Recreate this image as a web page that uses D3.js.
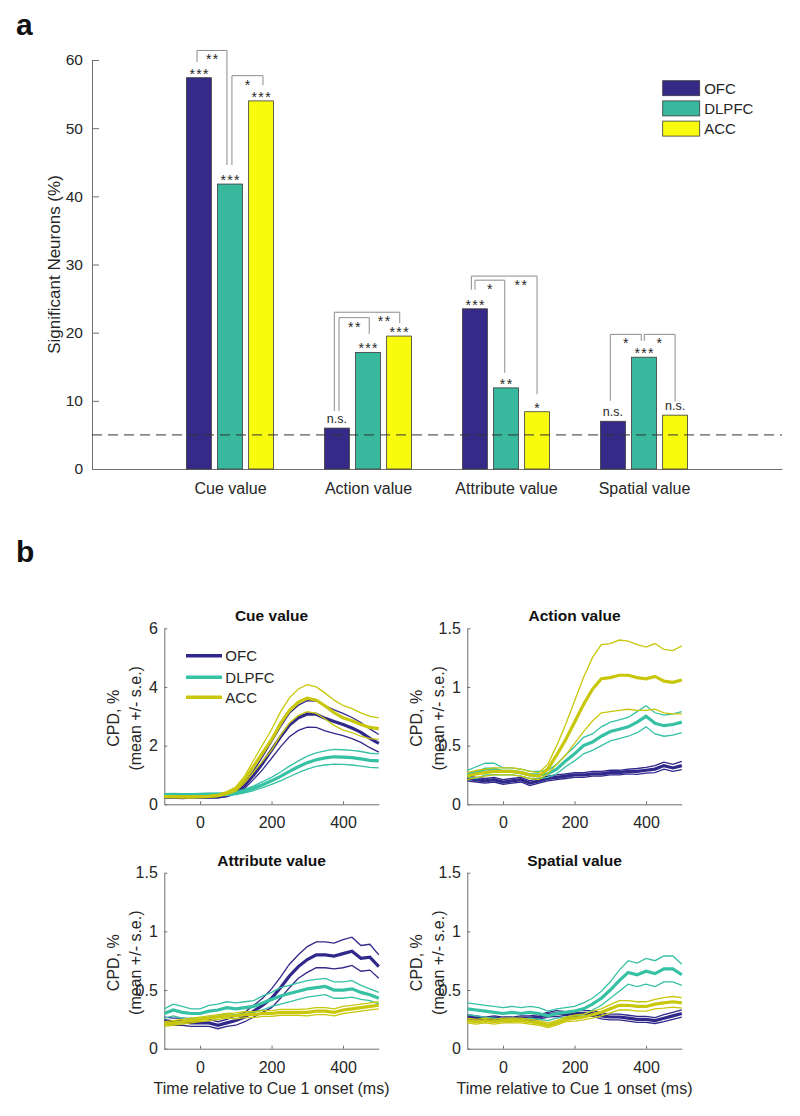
<!DOCTYPE html>
<html>
<head>
<meta charset="utf-8">
<script src="https://cdn.jsdelivr.net/npm/d3@7"></script>
<style>
  body { margin: 0; background: #fff; }
  svg text { font-family: "Liberation Sans", Arial, Helvetica, sans-serif; fill: #262626; }
</style>
</head>
<body>
<svg id="fig" width="800" height="1116"></svg>
<script>
(function () {
    'use strict';

    // ---- panel a data ----
    const categories = ['Cue value', 'Action value', 'Attribute value', 'Spatial value'];
    const regions = ['OFC', 'DLPFC', 'ACC'];
    const ofcPct = [57.4, 6.0, 23.5, 7.0];
    const dlpfcPct = [41.8, 17.1, 11.9, 16.4];
    const accPct = [54.0, 19.5, 8.4, 7.9];
    const barStars = [
        ['***', '***', '***'],
        ['n.s.', '***', '***'],
        ['***', '**', '*'],
        ['n.s.', '***', 'n.s.']
    ];
    const chanceLevel = 5;
    const pctTicks = [0, 10, 20, 30, 40, 50, 60];
    // pairwise comparisons: leg x (category axis units), top and leg ends (%), label
    const brackets = [
        { x: [0.761, 0.978], top: 61.4, ends: [59.7, 44.6], label: '**', lx: 0.870 },
        { x: [1.014, 1.239], top: 57.7, ends: [44.6, 56.3], label: '*', lx: 1.127 },
        { x: [1.756, 2.230], top: 23.0, ends: [8.5, 21.4], label: '**', lx: 2.116 },
        { x: [1.790, 2.009], top: 22.2, ends: [8.5, 19.8], label: '**', lx: 1.900 },
        { x: [2.749, 3.225], top: 28.3, ends: [26.3, 10.95], label: '**', lx: 3.107 },
        { x: [2.775, 2.991], top: 27.7, ends: [26.3, 14.1], label: '*', lx: 2.883 },
        { x: [3.756, 3.980], top: 19.75, ends: [10.0, 18.8], label: '*', lx: 3.868 },
        { x: [4.002, 4.225], top: 19.75, ends: [18.8, 9.9], label: '*', lx: 4.110 }
    ];

    // ---- panel b data (CPD %, every 25 ms) ----
    const times = [-100, -75, -50, -25, 0, 25, 50, 75, 100, 125, 150, 175, 200, 225, 250, 275, 300, 325, 350, 375, 400, 425, 450, 475, 500];

    const cueOfcMean = [0.24, 0.24, 0.23, 0.24, 0.24, 0.24, 0.25, 0.30, 0.42, 0.65, 1.00, 1.40, 1.85, 2.30, 2.70, 2.95, 3.08, 3.07, 2.93, 2.82, 2.72, 2.60, 2.45, 2.25, 2.08];
    const cueOfcSe = [0.02, 0.02, 0.02, 0.02, 0.02, 0.02, 0.03, 0.04, 0.06, 0.10, 0.15, 0.22, 0.28, 0.34, 0.40, 0.43, 0.45, 0.45, 0.43, 0.40, 0.38, 0.36, 0.34, 0.32, 0.30];
    const cueDlpfcMean = [0.32, 0.33, 0.32, 0.32, 0.33, 0.34, 0.34, 0.35, 0.38, 0.45, 0.55, 0.67, 0.80, 0.95, 1.12, 1.28, 1.42, 1.52, 1.58, 1.62, 1.61, 1.59, 1.55, 1.50, 1.48];
    const cueDlpfcSe = [0.04, 0.04, 0.04, 0.04, 0.04, 0.04, 0.04, 0.05, 0.05, 0.06, 0.08, 0.10, 0.12, 0.15, 0.18, 0.20, 0.22, 0.23, 0.24, 0.25, 0.25, 0.25, 0.25, 0.24, 0.24];
    const cueAccMean = [0.26, 0.26, 0.25, 0.25, 0.26, 0.27, 0.30, 0.38, 0.52, 0.85, 1.30, 1.75, 2.20, 2.75, 3.20, 3.48, 3.62, 3.55, 3.35, 3.12, 2.95, 2.85, 2.72, 2.62, 2.58];
    const cueAccSe = [0.03, 0.03, 0.03, 0.03, 0.03, 0.03, 0.04, 0.05, 0.07, 0.12, 0.20, 0.28, 0.35, 0.40, 0.43, 0.45, 0.46, 0.45, 0.44, 0.43, 0.42, 0.41, 0.40, 0.38, 0.37];

    const actOfcMean = [0.22, 0.21, 0.20, 0.21, 0.19, 0.20, 0.21, 0.18, 0.20, 0.22, 0.23, 0.24, 0.25, 0.25, 0.26, 0.26, 0.27, 0.27, 0.28, 0.28, 0.29, 0.30, 0.33, 0.31, 0.33];
    const actOfcSe = [0.02, 0.02, 0.02, 0.02, 0.02, 0.02, 0.02, 0.02, 0.02, 0.02, 0.02, 0.02, 0.02, 0.02, 0.02, 0.02, 0.02, 0.02, 0.02, 0.025, 0.025, 0.03, 0.03, 0.03, 0.035];
    const actDlpfcMean = [0.26, 0.27, 0.30, 0.30, 0.28, 0.28, 0.27, 0.25, 0.25, 0.26, 0.30, 0.37, 0.43, 0.50, 0.53, 0.58, 0.62, 0.64, 0.66, 0.70, 0.75, 0.69, 0.67, 0.68, 0.70];
    const actDlpfcSe = [0.03, 0.05, 0.05, 0.05, 0.03, 0.03, 0.03, 0.03, 0.03, 0.03, 0.04, 0.05, 0.06, 0.07, 0.07, 0.08, 0.08, 0.08, 0.08, 0.09, 0.09, 0.09, 0.09, 0.09, 0.09];
    const actAccMean = [0.24, 0.26, 0.27, 0.28, 0.28, 0.28, 0.27, 0.25, 0.24, 0.30, 0.42, 0.55, 0.70, 0.85, 0.98, 1.07, 1.08, 1.10, 1.10, 1.08, 1.07, 1.09, 1.05, 1.04, 1.06];
    const actAccSe = [0.03, 0.03, 0.03, 0.03, 0.03, 0.03, 0.03, 0.03, 0.03, 0.04, 0.08, 0.13, 0.18, 0.23, 0.27, 0.29, 0.29, 0.30, 0.29, 0.28, 0.27, 0.28, 0.27, 0.27, 0.29];

    const attOfcMean = [0.24, 0.23, 0.23, 0.22, 0.22, 0.22, 0.20, 0.22, 0.24, 0.27, 0.32, 0.37, 0.43, 0.52, 0.62, 0.70, 0.76, 0.80, 0.80, 0.79, 0.81, 0.83, 0.77, 0.78, 0.70];
    const attOfcSe = [0.03, 0.03, 0.03, 0.03, 0.03, 0.03, 0.03, 0.03, 0.04, 0.04, 0.05, 0.06, 0.08, 0.09, 0.10, 0.10, 0.11, 0.11, 0.11, 0.11, 0.12, 0.12, 0.11, 0.11, 0.10];
    const attDlpfcMean = [0.30, 0.33, 0.31, 0.30, 0.30, 0.32, 0.33, 0.35, 0.34, 0.35, 0.36, 0.39, 0.42, 0.45, 0.47, 0.49, 0.51, 0.52, 0.53, 0.50, 0.50, 0.51, 0.48, 0.46, 0.43];
    const attDlpfcSe = [0.04, 0.05, 0.05, 0.04, 0.04, 0.05, 0.05, 0.05, 0.05, 0.05, 0.05, 0.06, 0.06, 0.07, 0.07, 0.07, 0.07, 0.07, 0.07, 0.07, 0.07, 0.07, 0.06, 0.05, 0.05];
    const attAccMean = [0.21, 0.22, 0.23, 0.24, 0.25, 0.26, 0.27, 0.28, 0.28, 0.29, 0.29, 0.30, 0.30, 0.31, 0.31, 0.31, 0.31, 0.32, 0.32, 0.31, 0.33, 0.34, 0.35, 0.36, 0.37];
    const attAccSe = [0.02, 0.02, 0.02, 0.02, 0.02, 0.02, 0.02, 0.02, 0.025, 0.025, 0.025, 0.025, 0.025, 0.025, 0.025, 0.025, 0.03, 0.03, 0.03, 0.03, 0.03, 0.03, 0.03, 0.03, 0.03];

    const spaOfcMean = [0.27, 0.26, 0.25, 0.26, 0.25, 0.25, 0.26, 0.26, 0.27, 0.29, 0.30, 0.29, 0.30, 0.30, 0.30, 0.28, 0.27, 0.27, 0.26, 0.25, 0.25, 0.24, 0.26, 0.28, 0.30];
    const spaOfcSe = [0.02, 0.02, 0.02, 0.02, 0.02, 0.02, 0.02, 0.02, 0.02, 0.02, 0.025, 0.025, 0.025, 0.025, 0.025, 0.025, 0.025, 0.025, 0.025, 0.025, 0.025, 0.025, 0.03, 0.03, 0.03];
    const spaDlpfcMean = [0.34, 0.33, 0.32, 0.31, 0.30, 0.31, 0.30, 0.31, 0.30, 0.28, 0.30, 0.31, 0.32, 0.34, 0.38, 0.43, 0.50, 0.58, 0.65, 0.63, 0.66, 0.64, 0.68, 0.68, 0.63];
    const spaDlpfcSe = [0.05, 0.05, 0.05, 0.05, 0.05, 0.05, 0.05, 0.05, 0.05, 0.04, 0.04, 0.04, 0.04, 0.05, 0.05, 0.06, 0.07, 0.09, 0.10, 0.10, 0.11, 0.11, 0.11, 0.11, 0.09];
    const spaAccMean = [0.24, 0.23, 0.24, 0.23, 0.24, 0.24, 0.24, 0.23, 0.22, 0.20, 0.22, 0.25, 0.26, 0.27, 0.29, 0.31, 0.34, 0.37, 0.37, 0.36, 0.36, 0.38, 0.39, 0.40, 0.39];
    const spaAccSe = [0.02, 0.02, 0.02, 0.02, 0.02, 0.02, 0.02, 0.02, 0.02, 0.02, 0.02, 0.02, 0.025, 0.025, 0.03, 0.03, 0.035, 0.04, 0.04, 0.04, 0.04, 0.04, 0.045, 0.045, 0.045];

    const timeTicks = [0, 200, 400];

    const ink = '#262626';
    const axisGrey = '#707070';
    const barColors = ['#352a87', '#38b99e', '#f9fb0e'];
    const lineColors = ['#30288a', '#36c1a5', '#c8c70b'];

    const svg = d3.select('#fig');

    function styleAxis(g, fontSize) {
        g.select('.domain').attr('stroke', axisGrey).attr('stroke-width', 1);
        g.selectAll('.tick line').attr('stroke', axisGrey);
        g.selectAll('.tick text').attr('fill', ink).attr('font-size', fontSize)
            .style('font-family', '"Liberation Sans", Arial, sans-serif');
    }

    function panelLetter(txt, y) {
        svg.append('text').attr('x', 16).attr('y', y)
            .attr('font-size', 30).attr('font-weight', 'bold').style('fill', '#111').text(txt);
    }

    // ===================== panel a =====================
    function drawBars() {
        const x = d3.scaleLinear().domain([0, 5]).range([92, 782]);
        const y = d3.scaleLinear().domain([0, 60]).range([469, 60]);
        const g = svg.append('g');
        const offsets = [-0.225, 0, 0.225];
        const bw = x(0.18) - x(0);
        const values = [ofcPct, dlpfcPct, accPct];

        g.append('g').attr('transform', 'translate(0,469)')
            .call(d3.axisBottom(x).tickValues([1, 2, 3, 4]).tickFormat((d, i) => categories[i])
                .tickSize(0).tickPadding(13.5))
            .call(a => styleAxis(a, 16));

        g.append('g').attr('transform', 'translate(92,0)')
            .call(d3.axisLeft(y).tickValues(pctTicks).tickSizeInner(-7).tickSizeOuter(0).tickPadding(9))
            .call(a => styleAxis(a, 15.5));

        g.append('text')
            .attr('transform', `translate(54,${(y(0) + y(60)) / 2}) rotate(-90)`)
            .attr('text-anchor', 'middle').attr('dominant-baseline', 'central')
            .attr('font-size', 17).text('Significant Neurons (%)');

        regions.forEach((r, ri) => {
            g.append('g').selectAll('rect')
                .data(values[ri])
                .join('rect')
                .attr('x', (d, i) => x(i + 1 + offsets[ri]) - bw / 2)
                .attr('y', d => y(d))
                .attr('width', bw)
                .attr('height', d => y(0) - y(d))
                .attr('fill', barColors[ri])
                .attr('stroke', '#3a3a3a')
                .attr('stroke-width', 0.8);

            g.append('g').selectAll('text')
                .data(values[ri])
                .join('text')
                .attr('x', (d, i) => x(i + 1 + offsets[ri]))
                .attr('y', (d, i) => y(d) - (barStars[i][ri] === 'n.s.' ? 5.5 : -1))
                .attr('text-anchor', 'middle')
                .attr('font-size', (d, i) => barStars[i][ri] === 'n.s.' ? 12.5 : 14)
                .attr('letter-spacing', (d, i) => barStars[i][ri] === 'n.s.' ? 0 : 1.4)
                .attr('dx', (d, i) => barStars[i][ri] === 'n.s.' ? 0 : 0.7)
                .text((d, i) => barStars[i][ri]);
        });

        g.append('line')
            .attr('x1', x(0)).attr('x2', x(5))
            .attr('y1', y(chanceLevel)).attr('y2', y(chanceLevel))
            .attr('stroke', '#333').attr('stroke-width', 1)
            .attr('stroke-dasharray', '10,6');

        g.append('g').selectAll('path')
            .data(brackets)
            .join('path')
            .attr('d', b => `M${x(b.x[0])},${y(b.ends[0])}V${y(b.top)}H${x(b.x[1])}V${y(b.ends[1])}`)
            .attr('fill', 'none').attr('stroke', '#8c8c8c').attr('stroke-width', 1);

        g.append('g').selectAll('text')
            .data(brackets)
            .join('text')
            .attr('x', b => x(b.lx) + 0.7)
            .attr('y', b => y(b.top) + 14)
            .attr('text-anchor', 'middle')
            .attr('font-size', 14)
            .attr('letter-spacing', 1.4)
            .text(b => b.label);

        // legend
        const lg = g.append('g').attr('transform', 'translate(662.7,80.7)');
        regions.forEach((r, ri) => {
            lg.append('rect').attr('x', 0).attr('y', ri * 20.2).attr('width', 37).attr('height', 15)
                .attr('fill', barColors[ri]).attr('stroke', '#3a3a3a').attr('stroke-width', 0.8);
            lg.append('text').attr('x', 41.5).attr('y', ri * 20.2 + 7.5)
                .attr('dominant-baseline', 'central').attr('font-size', 15).text(r);
        });
    }

    // ===================== panel b =====================
    const panels = [
        { title: 'Cue value', yMax: 6, yTicks: [0, 2, 4, 6], col: 0, row: 0, legend: true,
          series: [[cueOfcMean, cueOfcSe], [cueDlpfcMean, cueDlpfcSe], [cueAccMean, cueAccSe]] },
        { title: 'Action value', yMax: 1.5, yTicks: [0, 0.5, 1, 1.5], col: 1, row: 0,
          series: [[actOfcMean, actOfcSe], [actDlpfcMean, actDlpfcSe], [actAccMean, actAccSe]] },
        { title: 'Attribute value', yMax: 1.5, yTicks: [0, 0.5, 1, 1.5], col: 0, row: 1, xLabel: true,
          series: [[attOfcMean, attOfcSe], [attDlpfcMean, attDlpfcSe], [attAccMean, attAccSe]] },
        { title: 'Spatial value', yMax: 1.5, yTicks: [0, 0.5, 1, 1.5], col: 1, row: 1, xLabel: true,
          series: [[spaOfcMean, spaOfcSe], [spaDlpfcMean, spaDlpfcSe], [spaAccMean, spaAccSe]] }
    ];

    function drawPanel(p) {
        const x0 = [164.3, 467.3][p.col];
        const y0 = [628.3, 872.7][p.row];
        const w = 214.5, h = 176;
        const x = d3.scaleLinear().domain([-100, 500]).range([x0, x0 + w]);
        const y = d3.scaleLinear().domain([0, p.yMax]).range([y0 + h, y0]);
        const g = svg.append('g');

        g.append('g').attr('transform', `translate(0,${y0 + h})`)
            .call(d3.axisBottom(x).tickValues(timeTicks).tickSizeInner(-3).tickSizeOuter(0).tickPadding(12.5))
            .call(a => styleAxis(a, 16));
        g.append('g').attr('transform', `translate(${x0},0)`)
            .call(d3.axisLeft(y).tickValues(p.yTicks).tickFormat(d => String(d))
                .tickSizeInner(-3).tickSizeOuter(0).tickPadding(6.5))
            .call(a => styleAxis(a, 16));

        const line = d3.line().x((d, i) => x(times[i])).y(d => y(d));
        p.series.forEach(([m, s], ri) => {
            const upper = m.map((v, i) => v + s[i]);
            const lower = m.map((v, i) => v - s[i]);
            [upper, lower].forEach(arr => {
                g.append('path').attr('d', line(arr)).attr('fill', 'none')
                    .attr('stroke', lineColors[ri]).attr('stroke-width', 1.3);
            });
            g.append('path').attr('d', line(m)).attr('fill', 'none')
                .attr('stroke', lineColors[ri]).attr('stroke-width', 3.2);
        });

        g.append('text').attr('x', x0 + w / 2).attr('y', y0 - 7)
            .attr('text-anchor', 'middle').attr('font-size', 15.5).attr('font-weight', 'bold')
            .style('fill', '#111').text(p.title);

        [['CPD, %', -51], ['(mean +/- s.e.)', -28.5]].forEach(([t, dx]) => {
            g.append('text')
                .attr('transform', `translate(${x0 + dx},${y0 + h / 2 + 2}) rotate(-90)`)
                .attr('text-anchor', 'middle').attr('dominant-baseline', 'central')
                .attr('font-size', 16).text(t);
        });

        if (p.xLabel) {
            g.append('text').attr('x', x0 + w / 2).attr('y', y0 + h + 45.5)
                .attr('text-anchor', 'middle').attr('font-size', 16)
                .text('Time relative to Cue 1 onset (ms)');
        }

        if (p.legend) {
            regions.forEach((r, ri) => {
                const ly = y0 + [27.4, 49, 69][ri];
                g.append('line').attr('x1', x0 + 21.7).attr('x2', x0 + 57.7)
                    .attr('y1', ly).attr('y2', ly)
                    .attr('stroke', lineColors[ri]).attr('stroke-width', 3.5);
                g.append('text').attr('x', x0 + 61).attr('y', ly)
                    .attr('dominant-baseline', 'central').attr('font-size', 15).text(r);
            });
        }
    }

    panelLetter('a', 35);
    drawBars();
    panelLetter('b', 562);
    panels.forEach(drawPanel);
})();
</script>
</body>
</html>
